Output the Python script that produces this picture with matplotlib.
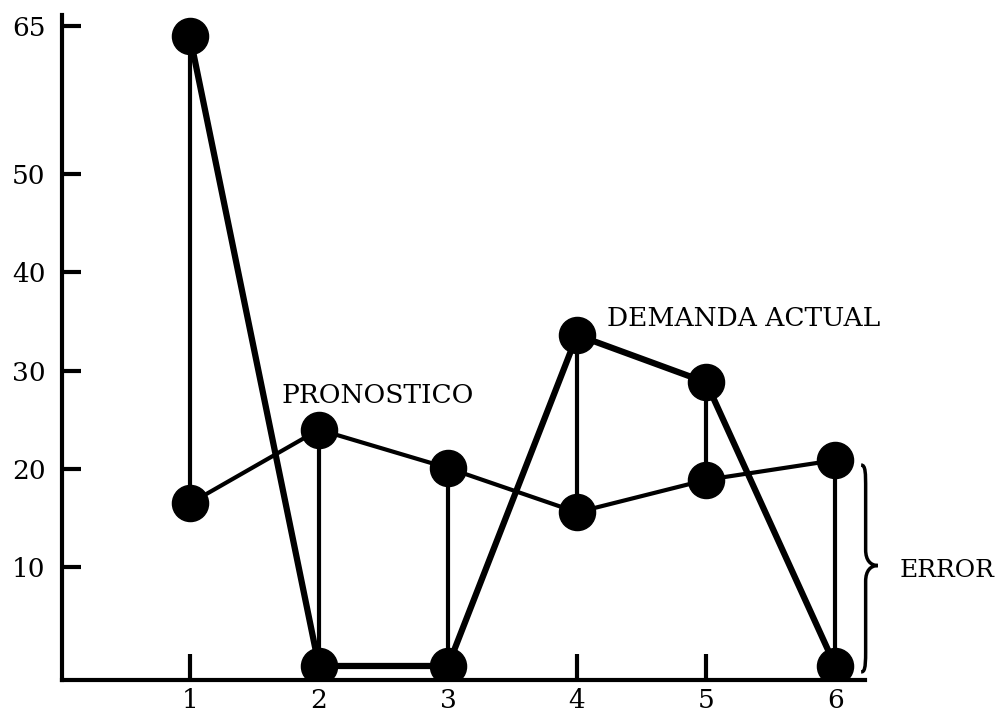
import matplotlib
matplotlib.use("Agg")
import matplotlib.pyplot as plt
from matplotlib.path import Path
from matplotlib.patches import PathPatch

# --- data ---
periods = [1, 2, 3, 4, 5, 6]
demanda_actual = [64, 0, 0, 33.6, 28.8, 0]
pronostico = [16.5, 24, 20.1, 15.6, 18.9, 20.9]
y_ticks = [10, 20, 30, 40, 50, 65]

plt.rcParams['font.family'] = ['DejaVu Serif']

fig = plt.figure(figsize=(10, 7.15), dpi=100)
ax = fig.add_axes([0.062, 0.049, 0.803, 0.93])

# error lines between forecast and actual demand
ax.vlines(periods, pronostico, demanda_actual, color='black', linewidth=3, zorder=2)
ax.plot(periods, pronostico, color='black', linewidth=3, marker='o',
        markersize=26, zorder=3)
ax.plot(periods, demanda_actual, color='black', linewidth=4.5, marker='o',
        markersize=26, zorder=4)

ax.set_xlim(0.01, 6.23)
ax.set_ylim(-1.42, 66.1)
ax.set_xticks(periods)
ax.set_yticks(y_ticks)
ax.tick_params(axis='both', direction='in', width=3, labelsize=19, colors='black')
ax.tick_params(axis='x', length=19, pad=6)
ax.tick_params(axis='y', length=14, pad=12)

for side in ['top', 'right']:
    ax.spines[side].set_visible(False)
for side in ['left', 'bottom']:
    ax.spines[side].set_linewidth(3)

ax.text(1.71, 27.5, 'PRONOSTICO', fontsize=19, va='center', ha='left')
ax.text(4.23, 35.3, 'DEMANDA ACTUAL', fontsize=19, va='center', ha='left')
ax.text(6.50, 9.7, 'ERROR', fontsize=18, va='center', ha='left', clip_on=False)

# curly brace marking the error at period 6
xs, xl, xt = 6.235, 6.2, 6.33
top, bot, mid = 20.4, -0.6, 10.2
verts = [
    (xl, top),
    (xs, top), (xs, top - 0.8), (xs, top - 2.5),
    (xs, mid + 1.6),
    (xs, mid + 0.5), (xs + 0.04, mid), (xt, mid),
    (xs + 0.04, mid), (xs, mid - 0.5), (xs, mid - 1.6),
    (xs, bot + 2.0),
    (xs, bot + 0.3), (xs - 0.01, bot), (xl, bot),
]
codes = [Path.MOVETO,
         Path.CURVE4, Path.CURVE4, Path.CURVE4,
         Path.LINETO,
         Path.CURVE4, Path.CURVE4, Path.CURVE4,
         Path.CURVE4, Path.CURVE4, Path.CURVE4,
         Path.LINETO,
         Path.CURVE4, Path.CURVE4, Path.CURVE4]
brace = PathPatch(Path(verts, codes), facecolor='none', edgecolor='black',
                  linewidth=2.5, clip_on=False)
ax.add_patch(brace)

fig.savefig('out.png', dpi=100)
